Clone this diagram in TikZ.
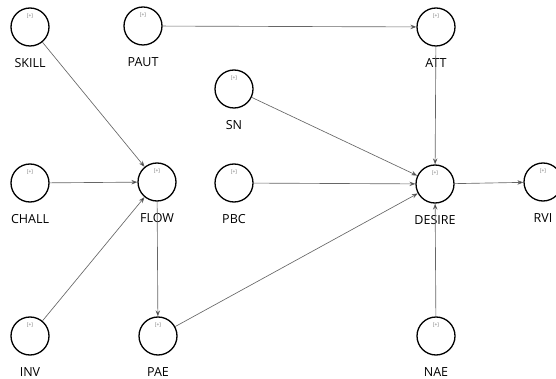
\documentclass[tikz,border=0pt]{standalone}
\usepackage{fontspec}
\setmainfont{Open Sans}
\usetikzlibrary{arrows.meta}
\begin{document}
\begin{tikzpicture}[x=1pt,y=-1pt,
  lv/.style={circle,draw=black,line width=1.3pt,minimum size=38pt,inner sep=0pt},
  lbl/.style={font=\fontsize{12.5}{14}\selectfont,text=black,inner sep=0pt},
  plus/.style={font=\fontsize{5}{6}\selectfont,text=black!55,inner sep=0pt},
  path/.style={draw=black!60,line width=0.65pt,-{Stealth[length=6pt,width=4.5pt,fill=black]}}]
\useasboundingbox (0,0) rectangle (556,379);
\newcommand{\lvar}[4]{%
  \node[lv] (#1) at (#2,#3) {};
  \node[plus] (#1p) at (#2,#3-11) {[+]};
  \node[lbl] (#1l) at (#2,#3+36) {#4};}
\lvar{skill}{30}{27}{SKILL}
\lvar{paut}{143}{26}{PAUT}
\lvar{att}{436}{27}{ATT}
\lvar{sn}{234}{89}{SN}
\lvar{chall}{30}{183}{CHALL}
\lvar{flow}{157}{182}{FLOW}
\lvar{pbc}{234}{183}{PBC}
\lvar{desire}{435}{184}{DESIRE}
\lvar{rvi}{543}{182}{RVI}
\lvar{inv}{30}{336}{INV}
\lvar{pae}{158}{336}{PAE}
\lvar{nae}{436}{336}{NAE}
\draw[path] (skill) -- (flow);
\draw[path] (chall) -- (flow);
\draw[path] (inv) -- (flow);
\draw[path] (flow) -- (pae);
\draw[path] (paut) -- (att);
\draw[path] (att) -- (desire);
\draw[path] (sn) -- (desire);
\draw[path] (pbc) -- (desire);
\draw[path] (pae) -- (desire);
\draw[path] (nae) -- (desire);
\draw[path] (desire) -- (rvi);
\end{tikzpicture}
\end{document}
